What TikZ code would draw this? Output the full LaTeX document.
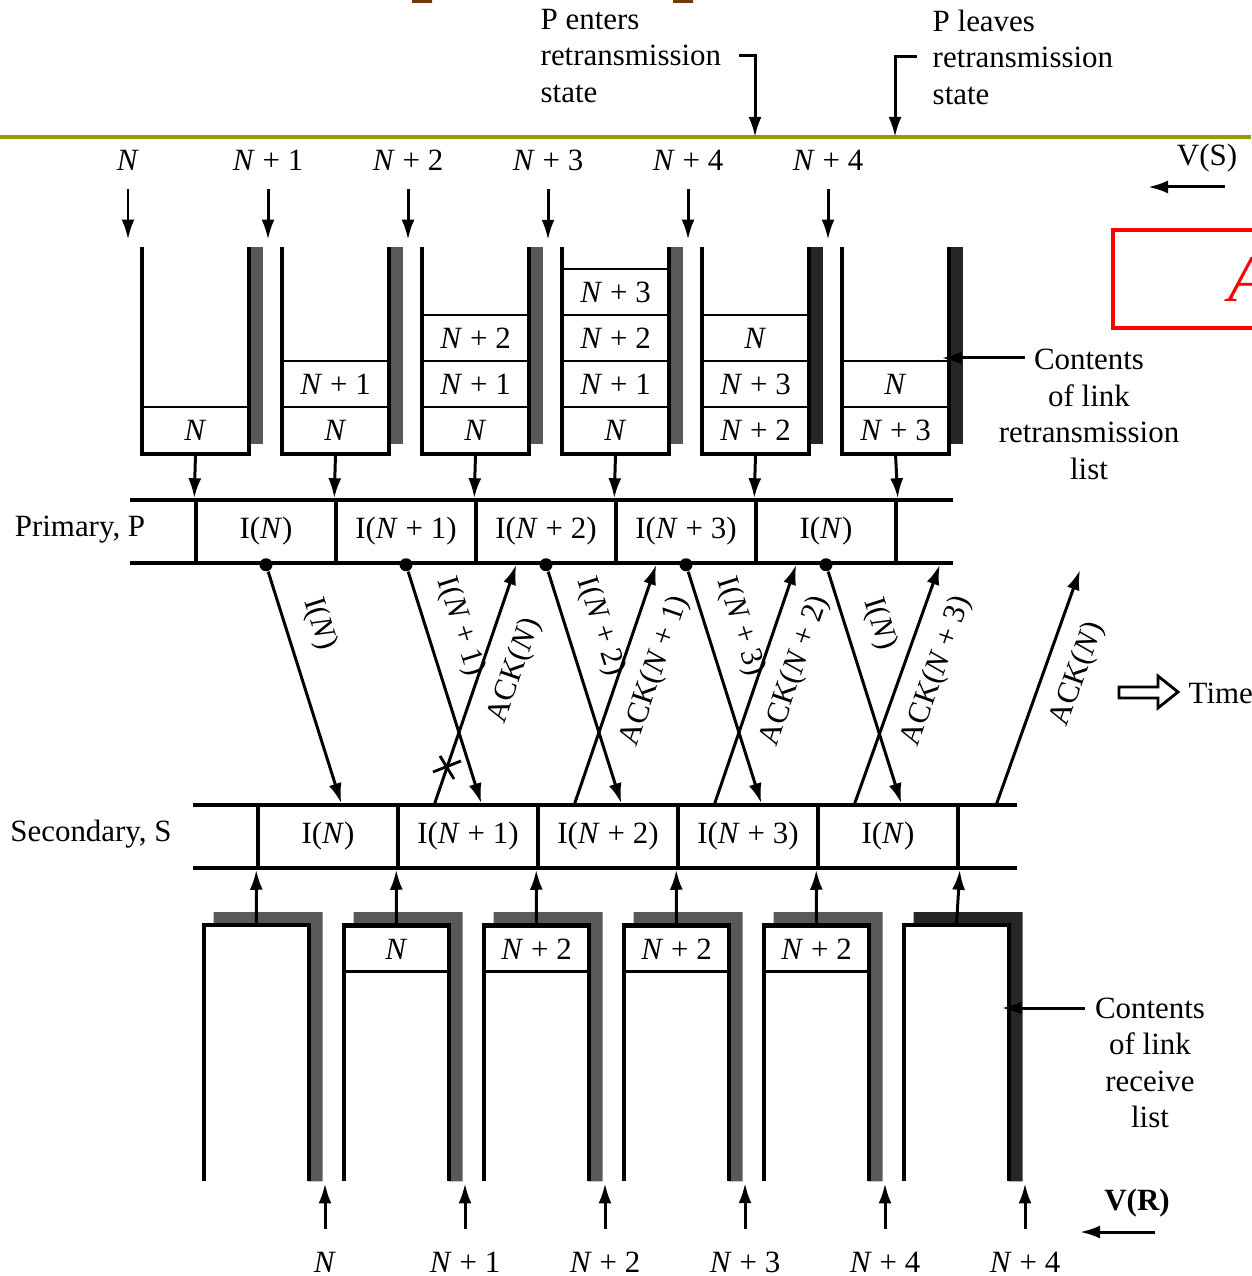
\documentclass[tikz,border=0pt]{standalone}
\usepackage{fontspec}
\setmainfont{Liberation Serif}
\usetikzlibrary{arrows.meta,calc}
\definecolor{olivebar}{RGB}{153,153,0}
\definecolor{brownmark}{RGB}{110,60,10}
\newcommand{\Nv}{\textit{N}}

\begin{document}
\begin{tikzpicture}[x=0.1mm,y=-0.1mm,>={Latex[length=2mm,width=1.3mm]},
 font=\fontsize{8.8}{10.4}\selectfont,
 wall/.style={line width=1.1pt},
 bar/.style={fill=black!65},
 cell/.style={draw,line width=0.8pt,minimum width=10.5mm,minimum height=4.6mm,inner sep=0pt},
 buf/.style={minimum width=10.5mm,minimum height=20.5mm,inner sep=0pt},
 rbuf/.style={minimum width=10.3mm,minimum height=25.5mm,inner sep=0pt},
 frm/.style={draw,line width=1pt,minimum width=14mm,minimum height=6.3mm,inner sep=0pt},
 rail/.style={line width=1pt},
 arr/.style={->,line width=0.85pt},
 dot/.style={circle,fill,inner sep=0pt,minimum size=1.3mm},
 note/.style={align=left,anchor=west,inner sep=0pt}]
\useasboundingbox (0,0) rectangle (1251,1276);
\fill[brownmark] (412,0) rectangle (432,3) (673,0) rectangle (693,3);
\draw[red,line width=1.4pt] (1113,230) rectangle (1300,328);
\node[red,font=\fontsize{19}{20}\selectfont\itshape,anchor=base west,inner sep=0pt] (ra) at (1228,302) {A};
\node[note] (pe) at (540,56) {P enters\\retransmission\\state};
\node[note] (pv) at (932,57) {P leaves\\retransmission\\state};
\draw[line width=1.3pt,olivebar] (0,137) -- (1251,137);
\coordinate (en) at (755,137); \coordinate (lv) at (895,137);
\draw[arr] ([xshift=1.7mm]pe.east) -| (en);
\draw[arr] ([xshift=-1.5mm]pv.west) -| (lv);
\node (in1) at (128,160) {\Nv}; \node (in2) at (268,160) {\Nv\ + 1}; \node (in3) at (408,160) {\Nv\ + 2};
\node (in4) at (548,160) {\Nv\ + 3}; \node (in5) at (688,160) {\Nv\ + 4}; \node (in6) at (828,160) {\Nv\ + 4};
\draw[arr,shorten <=0.6mm] (in1.south) -- ++(0,57); \draw[arr,shorten <=0.6mm] (in2.south) -- ++(0,57);
\draw[arr,shorten <=0.6mm] (in3.south) -- ++(0,57); \draw[arr,shorten <=0.6mm] (in4.south) -- ++(0,57);
\draw[arr,shorten <=0.6mm] (in5.south) -- ++(0,57); \draw[arr,shorten <=0.6mm] (in6.south) -- ++(0,57);
\node (vs) at (1207,158) {V(S)};
\coordinate (vsa) at (1225,187); \draw[arr] (vsa) -- ++(-77,0);
\node[buf] (t1) at (195.5,350.5) {}; \node[buf] (t2) at (335.5,350.5) {}; \node[buf] (t3) at (475.5,350.5) {};
\node[buf] (t4) at (615.5,350.5) {}; \node[buf] (t5) at (755.5,350.5) {}; \node[buf] (t6) at (895.5,350.5) {};
\fill[bar] (t1.north east) rectangle ([xshift=1.4mm,yshift=1mm]t1.south east); \draw[wall] (t1.north west) |- (t1.south east) -- (t1.north east);
\fill[bar] (t2.north east) rectangle ([xshift=1.4mm,yshift=1mm]t2.south east); \draw[wall] (t2.north west) |- (t2.south east) -- (t2.north east);
\fill[bar] (t3.north east) rectangle ([xshift=1.4mm,yshift=1mm]t3.south east); \draw[wall] (t3.north west) |- (t3.south east) -- (t3.north east);
\fill[bar] (t4.north east) rectangle ([xshift=1.4mm,yshift=1mm]t4.south east); \draw[wall] (t4.north west) |- (t4.south east) -- (t4.north east);
\fill[bar,black!85] (t5.north east) rectangle ([xshift=1.4mm,yshift=1mm]t5.south east); \draw[wall] (t5.north west) |- (t5.south east) -- (t5.north east);
\fill[bar,black!85] (t6.north east) rectangle ([xshift=1.4mm,yshift=1mm]t6.south east); \draw[wall] (t6.north west) |- (t6.south east) -- (t6.north east);
\node[cell] (t1a) at (195.5,430) {\Nv};
\node[cell] (t2a) at (335.5,430) {\Nv}; \node[cell] (t2b) at (335.5,384) {\Nv\ + 1};
\node[cell] (t3a) at (475.5,430) {\Nv}; \node[cell] (t3b) at (475.5,384) {\Nv\ + 1}; \node[cell] (t3c) at (475.5,338) {\Nv\ + 2};
\node[cell] (t4a) at (615.5,430) {\Nv}; \node[cell] (t4b) at (615.5,384) {\Nv\ + 1}; \node[cell] (t4c) at (615.5,338) {\Nv\ + 2};
\node[cell] (t4d) at (615.5,292) {\Nv\ + 3};
\node[cell] (t5a) at (755.5,430) {\Nv\ + 2}; \node[cell] (t5b) at (755.5,384) {\Nv\ + 3}; \node[cell] (t5c) at (755.5,338) {\Nv};
\node[cell] (t6a) at (895.5,430) {\Nv\ + 3}; \node[cell] (t6b) at (895.5,384) {\Nv};
\node[align=center] (crl) at (1089,414.5) {Contents\\of link\\retransmission\\list};
\coordinate (ca) at (1025,358); \draw[arr,shorten >=-0.7mm] (ca) -- (ca -| t6.east);
\node (pl) at (80,530) {Primary, P};
\draw[rail] (130,500) -- (953,500) (130,563) -- (953,563);
\node[frm] (p1) at (266,531.5) {I(\Nv)}; \node[frm] (p2) at (406,531.5) {I(\Nv\ + 1)}; \node[frm] (p3) at (546,531.5) {I(\Nv\ + 2)};
\node[frm] (p4) at (686,531.5) {I(\Nv\ + 3)}; \node[frm] (p5) at (826,531.5) {I(\Nv)};
\draw[arr] (t1a.south) -- (p1.north west); \draw[arr] (t2a.south) -- (p2.north west); \draw[arr] (t3a.south) -- (p3.north west);
\draw[arr] (t4a.south) -- (p4.north west); \draw[arr] (t5a.south) -- (p5.north west); \draw[arr] (t6a.south) -- (p5.north east);
\node[dot] (d1) at (p1.south) {}; \node[dot] (d2) at (p2.south) {}; \node[dot] (d3) at (p3.south) {};
\node[dot] (d4) at (p4.south) {}; \node[dot] (d5) at (p5.south) {};
\node (sl) at (91,834) {Secondary, S};
\draw[rail] (193,805) -- (1017,805) (193,868) -- (1017,868);
\node[frm] (s1) at (328,836.5) {I(\Nv)}; \node[frm] (s2) at (468,836.5) {I(\Nv\ + 1)}; \node[frm] (s3) at (608,836.5) {I(\Nv\ + 2)};
\node[frm] (s4) at (748,836.5) {I(\Nv\ + 3)}; \node[frm] (s5) at (888,836.5) {I(\Nv)};
\draw[arr] (d1) -- ([xshift=8.5mm]s1.north west) node[sloped,pos=0.27,above=0.6mm] {I(\Nv)};
\draw[arr] (d2) -- ([xshift=8.5mm]s2.north west) node[sloped,pos=0.28,above=0.6mm] {I(\Nv\ + 1)};
\draw[arr] (d3) -- ([xshift=8.5mm]s3.north west) node[sloped,pos=0.28,above=0.6mm] {I(\Nv\ + 2)};
\draw[arr] (d4) -- ([xshift=8.5mm]s4.north west) node[sloped,pos=0.28,above=0.6mm] {I(\Nv\ + 3)};
\draw[arr] (d5) -- ([xshift=8.5mm]s5.north west) node[sloped,pos=0.27,above=0.6mm] {I(\Nv)};
\draw[arr] ([xshift=3.5mm]s1.north east) -- ([xshift=4.2mm]p3.south west) node[sloped,pos=0.6,below=0.6mm] {ACK(\Nv)};
\draw[arr] ([xshift=3.5mm]s2.north east) -- ([xshift=4.2mm]p4.south west) node[sloped,pos=0.6,below=0.6mm] {ACK(\Nv\ + 1)};
\draw[arr] ([xshift=3.5mm]s3.north east) -- ([xshift=4.2mm]p5.south west) node[sloped,pos=0.6,below=0.6mm] {ACK(\Nv\ + 2)};
\draw[arr] ([xshift=3.5mm]s4.north east) -- ([xshift=4.2mm]p5.south east) node[sloped,pos=0.6,below=0.6mm] {ACK(\Nv\ + 3)};
\coordinate (ackend) at (1080,570);
\draw[arr] ([xshift=3.7mm]s5.north east) -- (ackend) node[sloped,pos=0.6,below=0.6mm] {ACK(\Nv)};
\draw[line width=0.8pt] (433,772) -- (461,761) (440,756) -- (454,779);
\draw[line width=0.8pt] (1119,687) -- (1158,687) -- (1158,676) -- (1178,692) -- (1158,708) -- (1158,698) -- (1119,698) -- cycle;
\node[anchor=west,inner sep=0pt] (tm) at (1188,693) {Time};
\node[rbuf,anchor=north] (r1) at (256.5,925) {}; \node[rbuf,anchor=north] (r2) at (396.5,925) {}; \node[rbuf,anchor=north] (r3) at (536.5,925) {};
\node[rbuf,anchor=north] (r4) at (676.5,925) {}; \node[rbuf,anchor=north] (r5) at (816.5,925) {}; \node[rbuf,anchor=north] (r6) at (956.5,925) {};
\fill[bar] ([xshift=-9.5mm]r1.north east) rectangle ([xshift=1.4mm,yshift=1.3mm]r1.north east) (r1.north east) rectangle ([xshift=1.4mm]r1.south east);
\fill[bar] ([xshift=-9.5mm]r2.north east) rectangle ([xshift=1.4mm,yshift=1.3mm]r2.north east) (r2.north east) rectangle ([xshift=1.4mm]r2.south east);
\fill[bar] ([xshift=-9.5mm]r3.north east) rectangle ([xshift=1.4mm,yshift=1.3mm]r3.north east) (r3.north east) rectangle ([xshift=1.4mm]r3.south east);
\fill[bar] ([xshift=-9.5mm]r4.north east) rectangle ([xshift=1.4mm,yshift=1.3mm]r4.north east) (r4.north east) rectangle ([xshift=1.4mm]r4.south east);
\fill[bar] ([xshift=-9.5mm]r5.north east) rectangle ([xshift=1.4mm,yshift=1.3mm]r5.north east) (r5.north east) rectangle ([xshift=1.4mm]r5.south east);
\fill[bar,black!85] ([xshift=-9.5mm]r6.north east) rectangle ([xshift=1.4mm,yshift=1.3mm]r6.north east) (r6.north east) rectangle ([xshift=1.4mm]r6.south east);
\draw[wall] (r1.south west) |- (r1.north east) -- (r1.south east); \draw[wall] (r2.south west) |- (r2.north east) -- (r2.south east);
\draw[wall] (r3.south west) |- (r3.north east) -- (r3.south east); \draw[wall] (r4.south west) |- (r4.north east) -- (r4.south east);
\draw[wall] (r5.south west) |- (r5.north east) -- (r5.south east); \draw[wall] (r6.south west) |- (r6.north east) -- (r6.south east);
\node[cell,minimum width=10.3mm,minimum height=4.5mm,anchor=north] (r2a) at (r2.north) {\Nv};
\node[cell,minimum width=10.3mm,minimum height=4.5mm,anchor=north] (r3a) at (r3.north) {\Nv\ + 2};
\node[cell,minimum width=10.3mm,minimum height=4.5mm,anchor=north] (r4a) at (r4.north) {\Nv\ + 2};
\node[cell,minimum width=10.3mm,minimum height=4.5mm,anchor=north] (r5a) at (r5.north) {\Nv\ + 2};
\draw[arr] (r1.north) -- (s1.south west); \draw[arr] (r2.north) -- (s2.south west); \draw[arr] (r3.north) -- (s3.south west);
\draw[arr] (r4.north) -- (s4.south west); \draw[arr] (r5.north) -- (s5.south west); \draw[arr] (r6.north) -- (s5.south east);
\node[align=center] (crr) at (1150,1063) {Contents\\of link\\receive\\list};
\coordinate (cb) at (1085,1008); \draw[arr,shorten >=-0.7mm] (cb) -- (cb -| r6.east);
\node (o1) at (325,1262) {\Nv}; \node (o2) at (465,1262) {\Nv\ + 1}; \node (o3) at (605,1262) {\Nv\ + 2};
\node (o4) at (745,1262) {\Nv\ + 3}; \node (o5) at (885,1262) {\Nv\ + 4}; \node (o6) at (1025,1262) {\Nv\ + 4};
\draw[arr,shorten <=1mm] (o1.north) -- ++(0,-56); \draw[arr,shorten <=1mm] (o2.north) -- ++(0,-56);
\draw[arr,shorten <=1mm] (o3.north) -- ++(0,-56); \draw[arr,shorten <=1mm] (o4.north) -- ++(0,-56);
\draw[arr,shorten <=1mm] (o5.north) -- ++(0,-56); \draw[arr,shorten <=1mm] (o6.north) -- ++(0,-56);
\node[font=\fontsize{8.8}{10.4}\selectfont\bfseries] (vr) at (1137,1203) {V(R)};
\coordinate (vra) at (1155,1232); \draw[arr] (vra) -- ++(-75,0);
\end{tikzpicture}
\end{document}
